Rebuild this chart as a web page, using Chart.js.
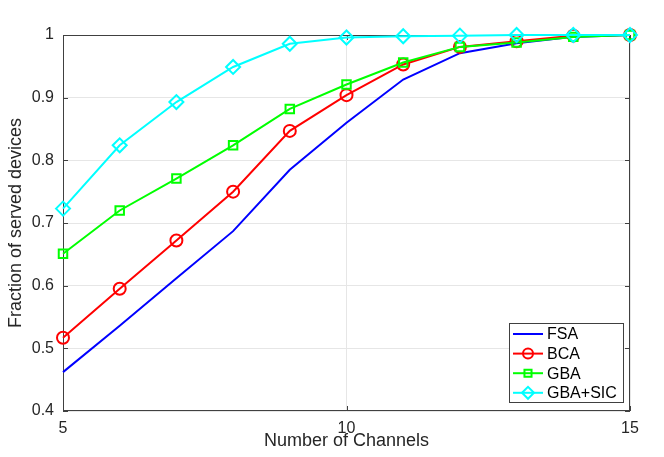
<!DOCTYPE html>
<html>
<head>
<meta charset="utf-8">
<script src="https://cdn.jsdelivr.net/npm/chart.js@4.4.0/dist/chart.umd.min.js"></script>
<style>
  html, body { margin: 0; padding: 0; background: #fff; }
</style>
</head>
<body>
<canvas id="fraccionServidos" width="664" height="457"></canvas>
<script>
// datos
var channels = [5, 6, 7, 8, 9, 10, 11, 12, 13, 14, 15];
var fsa    = [0.462, 0.536, 0.612, 0.687, 0.785, 0.860, 0.929, 0.971, 0.987, 0.997, 1.000];
var bca    = [0.517, 0.595, 0.672, 0.750, 0.847, 0.904, 0.953, 0.981, 0.990, 0.999, 1.000];
var gba    = [0.651, 0.720, 0.771, 0.824, 0.882, 0.921, 0.956, 0.981, 0.988, 0.997, 1.000];
var gbaSic = [0.723, 0.824, 0.893, 0.949, 0.986, 0.996, 0.998, 0.999, 1.000, 1.000, 1.000];
var seriesNames = ['FSA', 'BCA', 'GBA', 'GBA+SIC'];

function puntos(vals) {
  return channels.map(function(c, i) { return {x: c, y: vals[i]}; });
}

var fuente = "'Liberation Sans', Arial, sans-serif";

// caja y marcas de eje estilo MATLAB
var cajaEjes = {
  id: 'cajaEjes',
  beforeDatasetsDraw: function(chart) {
    var ctx = chart.ctx, a = chart.chartArea;
    var sx = chart.scales.x, sy = chart.scales.y;
    ctx.save();
    ctx.strokeStyle = '#404040';
    ctx.lineWidth = 1;
    ctx.strokeRect(Math.round(a.left) + 0.5, Math.round(a.top) + 0.5,
      Math.round(a.right - a.left) - 1, Math.round(a.bottom - a.top) - 1);
    ctx.beginPath();
    sy.ticks.forEach(function(t) {
      var py = Math.round(sy.getPixelForValue(t.value)) + 0.5;
      ctx.moveTo(a.left, py); ctx.lineTo(a.left + 5, py);
      ctx.moveTo(a.right, py); ctx.lineTo(a.right - 5, py);
    });
    sx.ticks.forEach(function(t) {
      var px = Math.round(sx.getPixelForValue(t.value)) + 0.5;
      ctx.moveTo(px, a.bottom); ctx.lineTo(px, a.bottom - 5);
      ctx.moveTo(px, a.top); ctx.lineTo(px, a.top + 5);
    });
    ctx.stroke();
    ctx.restore();
  }
};

// leyenda dentro del area, abajo a la derecha
var leyendaCaja = {
  id: 'leyendaCaja',
  afterDraw: function(chart) {
    var ctx = chart.ctx, a = chart.chartArea;
    var w = 114, h = 79;
    var x0 = Math.round(a.right) - 7 - w, y0 = Math.round(a.bottom) - 9 - h;
    ctx.save();
    ctx.fillStyle = '#fff';
    ctx.fillRect(x0, y0, w, h);
    ctx.strokeStyle = '#404040';
    ctx.lineWidth = 1;
    ctx.strokeRect(x0 + 0.5, y0 + 0.5, w, h);
    chart.data.datasets.forEach(function(ds, i) {
      var yy = y0 + 11 + i * 19.6;
      ctx.strokeStyle = ds.borderColor;
      ctx.lineWidth = 2;
      ctx.beginPath();
      ctx.moveTo(x0 + 4, yy); ctx.lineTo(x0 + 34, yy);
      ctx.stroke();
      if (ds.pointRadius > 0) {
        ctx.fillStyle = 'rgba(0,0,0,0)';
        Chart.helpers.drawPoint(ctx, {
          pointStyle: ds.pointStyle, radius: ds.pointRadius - 1,
          rotation: 0, borderWidth: 2
        }, x0 + 19, yy);
      }
      ctx.fillStyle = '#000';
      ctx.font = '16px ' + fuente;
      ctx.textBaseline = 'middle';
      ctx.fillText(ds.label, x0 + 38, yy + 1);
    });
    ctx.restore();
  }
};

new Chart(document.getElementById('fraccionServidos'), {
  type: 'line',
  data: {
    datasets: [
      {
        label: seriesNames[0], data: puntos(fsa), order: 3,
        borderColor: '#0000ff', borderWidth: 2, pointRadius: 0,
        pointStyle: false
      },
      {
        label: seriesNames[1], data: puntos(bca), order: 2,
        borderColor: '#ff0000', borderWidth: 2,
        pointStyle: 'circle', pointRadius: 6, pointBorderWidth: 2,
        pointBackgroundColor: 'rgba(0,0,0,0)', pointBorderColor: '#ff0000'
      },
      {
        label: seriesNames[2], data: puntos(gba), order: 1,
        borderColor: '#00ff00', borderWidth: 2,
        pointStyle: 'rect', pointRadius: 6, pointBorderWidth: 2,
        pointBackgroundColor: 'rgba(0,0,0,0)', pointBorderColor: '#00ff00'
      },
      {
        label: seriesNames[3], data: puntos(gbaSic), order: 0,
        borderColor: '#00ffff', borderWidth: 2,
        pointStyle: 'rectRot', pointRadius: 7, pointBorderWidth: 2,
        pointBackgroundColor: 'rgba(0,0,0,0)', pointBorderColor: '#00ffff'
      }
    ]
  },
  options: {
    responsive: false,
    animation: false,
    clip: false,
    layout: { padding: { top: 35, right: 34, left: 0, bottom: 0 } },
    elements: { line: { tension: 0 } },
    plugins: {
      legend: { display: false },
      tooltip: { enabled: false }
    },
    scales: {
      x: {
        type: 'linear', min: 5, max: 15,
        afterFit: function(s) { s.height = 46; },
        ticks: { stepSize: 5, padding: 8, color: '#262626', font: { family: fuente, size: 16 } },
        grid: { color: '#e6e6e6', drawTicks: false, tickLength: 0 },
        border: { display: false },
        title: {
          display: true, text: 'Number of Channels', color: '#262626',
          font: { family: fuente, size: 18 }, padding: { top: 0, bottom: 5 }
        }
      },
      y: {
        min: 0.4, max: 1,
        afterFit: function(s) { s.width = 63; },
        ticks: {
          stepSize: 0.1, padding: 9, color: '#262626', font: { family: fuente, size: 16 },
          callback: function(v) { return String(parseFloat(v.toFixed(1))); }
        },
        grid: { color: '#e6e6e6', drawTicks: false, tickLength: 0 },
        border: { display: false },
        title: {
          display: true, text: 'Fraction of served devices', color: '#262626',
          font: { family: fuente, size: 18 }, padding: { top: 5, bottom: 0 }
        }
      }
    }
  },
  plugins: [cajaEjes, leyendaCaja]
});
</script>
</body>
</html>
